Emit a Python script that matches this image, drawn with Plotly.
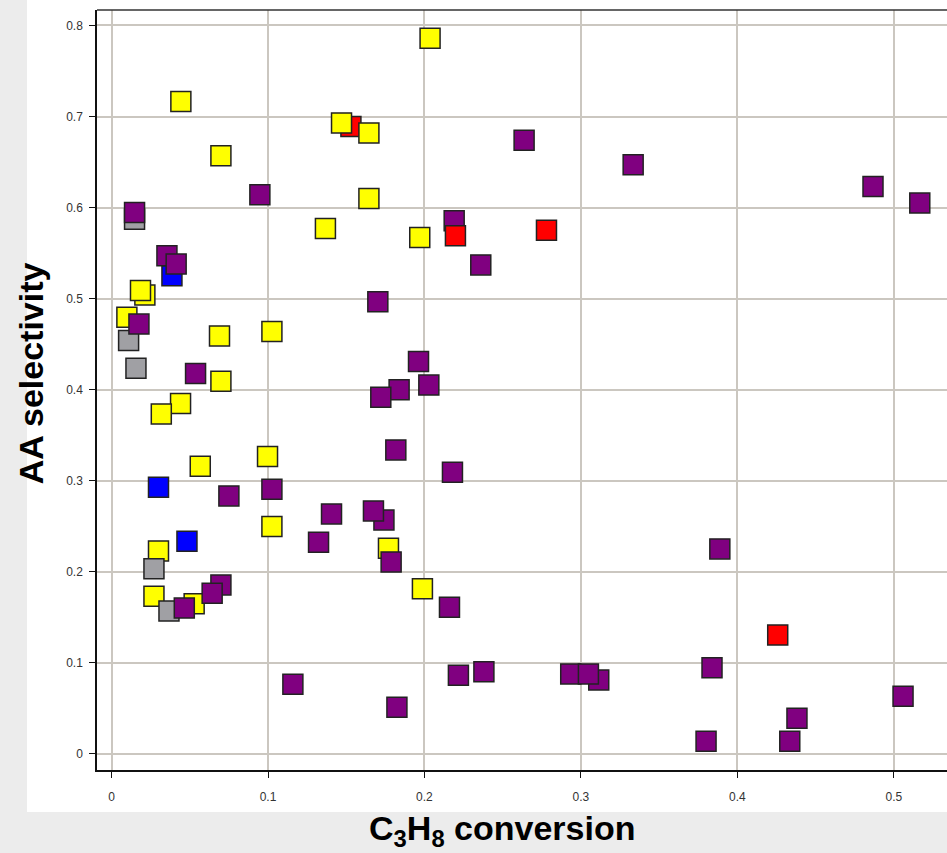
import plotly.graph_objects as go

# ---- data ----
yellow_x = [0.2036, 0.0443, 0.0699, 0.1470, 0.1645, 0.1645, 0.1367, 0.1970, 0.0213, 0.0185,
            0.0098, 0.0690, 0.1025, 0.0699, 0.0441, 0.0318, 0.0567, 0.0997, 0.1025, 0.0300,
            0.0271, 0.0528, 0.1770, 0.1987]
yellow_y = [0.786, 0.7165, 0.657, 0.693, 0.682, 0.610, 0.577, 0.567, 0.504, 0.5088,
            0.4795, 0.459, 0.4637, 0.4092, 0.3846, 0.3733, 0.3158, 0.3264, 0.2495, 0.2228,
            0.173, 0.1648, 0.2257, 0.1813]

red_x = [0.1530, 0.2198, 0.2780, 0.4258]
red_y = [0.689, 0.569, 0.575, 0.1304]

blue_x = [0.0386, 0.0300, 0.0482]
blue_y = [0.525, 0.2927, 0.2334]

grey_x = [0.0147, 0.0109, 0.0156, 0.0271, 0.0367]
grey_y = [0.587, 0.4538, 0.4235, 0.2033, 0.1568]

# purple point that sits underneath a red one
purple_back_x = [0.2190]
purple_back_y = [0.5854]

purple_x = [0.0147, 0.0354, 0.0413, 0.0948, 0.0175, 0.0537, 0.0750, 0.1025, 0.0699, 0.0643,
            0.0465, 0.1159, 0.1323, 0.1406, 0.1741, 0.1674, 0.1787, 0.1702, 0.1962, 0.2028,
            0.1838, 0.1721, 0.1817, 0.2179, 0.2160, 0.1824, 0.2217, 0.2380, 0.2360, 0.2637,
            0.3334, 0.4867, 0.5166, 0.3888, 0.3114, 0.2935, 0.3048, 0.3838, 0.3800, 0.4335,
            0.4381, 0.5059]
purple_y = [0.5945, 0.547, 0.538, 0.614, 0.472, 0.4176, 0.2832, 0.2905, 0.1854, 0.1763,
            0.160, 0.0763, 0.2323, 0.2634, 0.2568, 0.2667, 0.2107, 0.4964, 0.4308, 0.405,
            0.3997, 0.3916, 0.3337, 0.3092, 0.1609, 0.051, 0.0862, 0.0901, 0.537, 0.674,
            0.647, 0.623, 0.605, 0.225, 0.081, 0.0876, 0.0876, 0.0945, 0.0136, 0.0136,
            0.0389, 0.0631]

x_ticks = [0, 0.1, 0.2, 0.3, 0.4, 0.5]
x_tick_text = ["0", "0.1", "0.2", "0.3", "0.4", "0.5"]
y_ticks = [0, 0.1, 0.2, 0.3, 0.4, 0.5, 0.6, 0.7, 0.8]
y_tick_text = ["0", "0.1", "0.2", "0.3", "0.4", "0.5", "0.6", "0.7", "0.8"]

FONT = "Liberation Sans, Arial, Helvetica, sans-serif"

def sq(x, y, color):
    return go.Scatter(
        x=x, y=y, mode="markers", showlegend=False, hoverinfo="x+y",
        marker=dict(symbol="square", size=20, color=color,
                    line=dict(color="#222222", width=1.5)),
    )

fig = go.Figure()
fig.add_trace(sq(purple_back_x, purple_back_y, "#800080"))
fig.add_trace(sq(red_x, red_y, "#ff0000"))
fig.add_trace(sq(yellow_x, yellow_y, "#ffff00"))
fig.add_trace(sq(grey_x, grey_y, "#a0a0a4"))
fig.add_trace(sq(blue_x, blue_y, "#0000ff"))
fig.add_trace(sq(purple_x, purple_y, "#800080"))

grid = "#cbc7c0"
axis_common = dict(
    showgrid=True, gridcolor=grid, gridwidth=1.5,
    zeroline=False, showline=True, linecolor="#111111", linewidth=1.5,
    ticks="outside", ticklen=6, tickwidth=1, tickcolor="#111111",
    tickfont=dict(family=FONT, size=12, color="#333333"),
)

fig.update_layout(
    width=947, height=853,
    margin=dict(l=97, r=0, t=10, b=83),
    paper_bgcolor="#ececec",
    plot_bgcolor="#ffffff",
    xaxis=dict(range=[-0.0093, 0.534], tickvals=x_ticks, ticktext=x_tick_text,
               ticklabelstandoff=9, **axis_common),
    yaxis=dict(range=[-0.0179, 0.817], tickvals=y_ticks, ticktext=y_tick_text,
               ticklabelstandoff=4, **axis_common),
    shapes=[
        dict(type="rect", xref="paper", yref="paper", x0=-0.0824, x1=1.01,
             y0=-0.0553, y1=1.02, fillcolor="#ffffff", line=dict(width=0), layer="below"),
        dict(type="line", xref="paper", yref="paper", x0=0, x1=1, y0=1, y1=1,
             line=dict(color="#333333", width=1.5)),
    ],
    annotations=[
        dict(text="<b>AA selectivity</b>", xref="paper", yref="paper",
             x=-0.0776, y=0.522, textangle=-90, showarrow=False,
             xanchor="center", yanchor="middle",
             font=dict(family=FONT, size=34, color="#000000")),
        dict(text="<b>C<sub>3</sub>H<sub>8</sub> conversion</b>", xref="paper", yref="paper",
             x=0.4765, y=-0.0800, showarrow=False,
             xanchor="center", yanchor="middle",
             font=dict(family=FONT, size=34, color="#000000")),
    ],
)

fig.write_html(
    "out.html",
    config={"displayModeBar": False},
    post_script="document.body.style.margin='0';document.body.style.padding='0';",
)
